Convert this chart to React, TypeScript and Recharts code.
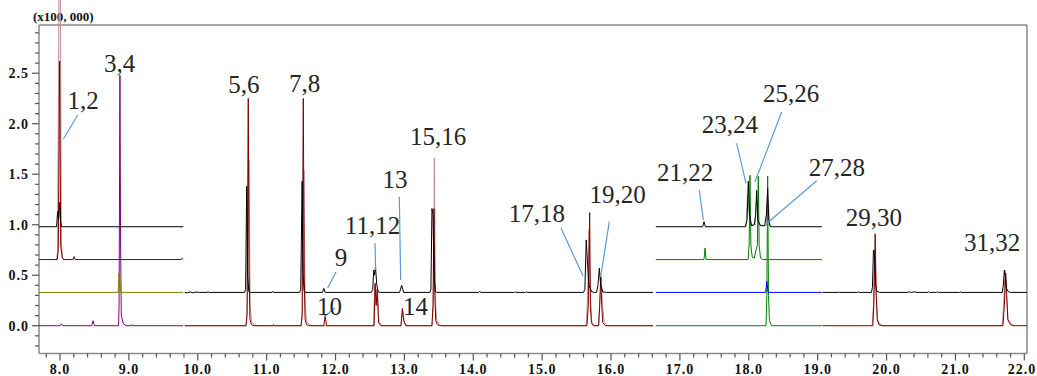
import { Line, LineChart, ReferenceDot, ReferenceLine, XAxis, YAxis } from "recharts";

type P = [number, number];
const pts = (a: P[]) => a.map(([t, v]) => ({ t, v }));

// retention time (min) vs intensity (x100,000); traces are offset per channel
const seg1Black: P[] = [[7.695, 0.98], [7.95, 0.98], [7.965, 1.13], [7.98, 1.05], [7.995, 1.22], [8.01, 1.02], [8.025, 0.98], [9.79, 0.98]];
const seg1Maroon: P[] = [[7.695, 0.655], [7.96, 0.655], [7.975, 0.75], [7.995, 2.62], [8.01, 0.8], [8.03, 0.68], [8.05, 0.655], [8.19, 0.655], [8.205, 0.685], [8.22, 0.655], [9.76, 0.655], [9.775, 0.67], [9.79, 0.66]];
const seg1Rosy: P[] = [[7.95, 0.655], [7.965, 0.74], [7.985, 3.3], [8.005, 3.3], [8.02, 0.8], [8.04, 0.665], [8.06, 0.655]];
const seg1Olive: P[] = [[7.695, 0.33], [8.845, 0.33], [8.855, 0.52], [8.868, 0.46], [8.88, 0.33], [9.79, 0.33]];
const seg1Purple: P[] = [[7.695, 0], [8.0, 0], [8.02, 0.02], [8.04, 0], [8.46, 0], [8.48, 0.05], [8.5, 0], [8.85, 0], [8.858, 0.22], [8.87, 2.48], [8.88, 0.77], [8.89, 0.1], [8.92, 0.02], [8.96, 0], [9.04, 0], [9.05, 0.012], [9.06, 0], [9.79, 0]];

const seg2Black: P[] = [
  [9.81, 0.33], [9.85, 0.325], [9.89, 0.335], [9.93, 0.325], [9.97, 0.333], [10.02, 0.33], [10.14, 0.33], [10.15, 0.338], [10.16, 0.33],
  [10.68, 0.33], [10.695, 0.36], [10.71, 1.38], [10.725, 0.5], [10.74, 0.34], [10.76, 0.33],
  [11.08, 0.33], [11.09, 0.34], [11.1, 0.33],
  [11.48, 0.33], [11.495, 0.36], [11.515, 1.43], [11.53, 0.5], [11.545, 0.34], [11.57, 0.33],
  [11.81, 0.33], [11.83, 0.37], [11.85, 0.33],
  [12.52, 0.33], [12.54, 0.36], [12.555, 0.55], [12.565, 0.5], [12.58, 0.58], [12.6, 0.4], [12.62, 0.335], [12.65, 0.33],
  [12.93, 0.33], [12.96, 0.4], [12.99, 0.33],
  [13.37, 0.33], [13.385, 0.36], [13.4, 1.16], [13.415, 1.1], [13.43, 0.5], [13.45, 0.34], [13.47, 0.33],
  [14.08, 0.33], [14.095, 0.34], [14.11, 0.33], [14.6, 0.33], [14.61, 0.336], [14.62, 0.33], [14.76, 0.33], [14.77, 0.336], [14.78, 0.33],
  [15.6, 0.33], [15.62, 0.36], [15.64, 0.85], [15.66, 0.6], [15.68, 0.4], [15.72, 0.335], [15.76, 0.33],
  [15.79, 0.33], [15.81, 0.4], [15.83, 0.57], [15.85, 0.4], [15.88, 0.335], [15.93, 0.33], [16.61, 0.33],
];
const seg2Maroon: P[] = [
  [9.81, 0], [10.7, 0], [10.715, 0.1], [10.733, 2.25], [10.745, 0.5], [10.758, 0.06], [10.78, 0.01], [10.82, 0],
  [11.09, 0], [11.1, 0.012], [11.11, 0],
  [11.5, 0], [11.515, 0.1], [11.532, 2.25], [11.545, 0.5], [11.558, 0.06], [11.58, 0.01], [11.62, 0],
  [11.83, 0], [11.85, 0.1], [11.87, 0],
  [12.56, 0], [12.575, 0.42], [12.59, 0.2], [12.605, 0.36], [12.625, 0.03], [12.66, 0],
  [12.95, 0], [12.97, 0.17], [12.99, 0.05], [13.02, 0],
  [13.4, 0], [13.415, 0.2], [13.43, 1.16], [13.442, 0.3], [13.455, 0.05], [13.48, 0.01], [13.52, 0],
  [15.65, 0], [15.67, 0.2], [15.69, 1.12], [15.7, 0.2], [15.715, 0.03], [15.74, 0],
  [15.82, 0], [15.835, 0.2], [15.85, 0.48], [15.865, 0.2], [15.88, 0.03], [15.92, 0], [16.61, 0],
];
const seg2Rosy: P[] = [
  [9.81, 0], [10.7, 0], [10.72, 0.15], [10.745, 1.64], [10.76, 0.2], [10.78, 0.04], [10.82, 0.01], [10.86, 0],
  [11.5, 0], [11.52, 0.15], [11.54, 1.54], [11.56, 0.2], [11.58, 0.04], [11.62, 0.01], [11.66, 0],
  [12.55, 0], [12.57, 0.4], [12.59, 0.22], [12.61, 0.34], [12.63, 0.04], [12.67, 0],
  [12.95, 0], [12.975, 0.15], [13.0, 0.04], [13.03, 0],
  [13.4, 0], [13.42, 0.2], [13.435, 1.66], [13.45, 0.25], [13.47, 0.05], [13.51, 0.01], [13.55, 0],
  [15.64, 0], [15.66, 0.3], [15.68, 0.95], [15.7, 0.3], [15.72, 0.04], [15.76, 0],
  [15.82, 0], [15.84, 0.3], [15.86, 0.48], [15.875, 0.2], [15.9, 0.04], [15.94, 0], [16.61, 0],
];

const seg3Black: P[] = [[16.65, 0.98], [17.33, 0.98], [17.35, 1.03], [17.37, 0.98], [17.95, 0.98], [17.975, 1.05], [17.993, 1.43], [18.01, 1.1], [18.04, 0.99], [18.08, 1.0], [18.1, 1.1], [18.114, 1.34], [18.13, 1.05], [18.17, 0.99], [18.23, 0.99], [18.255, 1.1], [18.274, 1.36], [18.29, 1.05], [18.31, 0.985], [18.34, 0.98], [19.06, 0.98]];
const seg3Gray: P[] = [[17.96, 0.98], [17.98, 1.3], [17.995, 1.2], [18.02, 1.0], [18.09, 1.0], [18.105, 1.22], [18.125, 1.25], [18.14, 1.0], [18.25, 0.99], [18.265, 1.2], [18.285, 1.22], [18.3, 0.99], [18.32, 0.98]];
const seg3Green1: P[] = [[16.65, 0.655], [17.35, 0.655], [17.365, 0.77], [17.38, 0.655], [17.99, 0.655], [18.005, 0.8], [18.017, 1.49], [18.03, 0.8], [18.05, 0.68], [18.08, 0.67], [18.105, 0.75], [18.125, 0.8], [18.138, 1.48], [18.15, 0.8], [18.17, 0.67], [18.2, 0.655], [19.06, 0.655]];
const seg3Blue: P[] = [[16.65, 0.33], [18.245, 0.33], [18.262, 0.44], [18.28, 0.33], [19.06, 0.33]];
const seg3Green0: P[] = [[16.65, 0], [18.25, 0], [18.262, 0.3], [18.274, 1.48], [18.286, 0.3], [18.3, 0.05], [18.33, 0], [19.06, 0]];

const seg4Black: P[] = [
  [19.07, 0.33], [19.3, 0.33], [19.31, 0.336], [19.32, 0.33], [19.58, 0.33], [19.59, 0.336], [19.6, 0.33],
  [19.78, 0.33], [19.795, 0.38], [19.81, 0.75], [19.825, 0.7], [19.84, 0.4], [19.86, 0.34], [19.9, 0.33],
  [20.3, 0.33], [20.33, 0.336], [20.36, 0.328], [20.4, 0.336], [20.44, 0.33], [20.6, 0.33], [20.61, 0.336], [20.62, 0.33],
  [20.73, 0.33], [20.74, 0.336], [20.75, 0.33], [21.06, 0.33], [21.07, 0.336], [21.08, 0.33],
  [21.68, 0.33], [21.695, 0.4], [21.71, 0.55], [21.725, 0.5], [21.74, 0.37], [21.77, 0.335], [21.8, 0.33], [22.039, 0.33],
];
const seg4Maroon: P[] = [[19.07, 0], [19.8, 0], [19.815, 0.2], [19.835, 0.91], [19.85, 0.3], [19.865, 0.06], [19.89, 0.01], [19.93, 0], [21.69, 0], [21.71, 0.2], [21.73, 0.52], [21.745, 0.3], [21.76, 0.06], [21.8, 0.01], [21.84, 0], [22.039, 0]];
const seg4Rosy: P[] = [[19.79, 0], [19.81, 0.2], [19.83, 0.75], [19.85, 0.3], [19.87, 0.06], [19.9, 0.015], [19.95, 0], [21.68, 0], [21.7, 0.2], [21.72, 0.55], [21.74, 0.3], [21.765, 0.06], [21.81, 0.015], [21.86, 0]];

// drawing order: light overlays first, black on top
const series = [
  { data: seg1Rosy, color: "#bc8f8f" },
  { data: seg2Rosy, color: "#bc8f8f" },
  { data: seg4Rosy, color: "#bc8f8f" },
  { data: seg3Gray, color: "#a8a8a8" },
  { data: seg1Purple, color: "#800080" },
  { data: seg1Olive, color: "#808000" },
  { data: seg1Maroon, color: "#800000" },
  { data: seg2Maroon, color: "#800000" },
  { data: seg4Maroon, color: "#800000" },
  { data: seg3Green0, color: "#008000" },
  { data: seg3Blue, color: "#0000ff" },
  { data: seg3Green1, color: "#008000" },
  { data: seg1Black, color: "#000000" },
  { data: seg2Black, color: "#000000" },
  { data: seg3Black, color: "#000000" },
  { data: seg4Black, color: "#000000" },
];

const peakNames = ["1,2", "3,4", "5,6", "7,8", "9", "10", "11,12", "13", "14", "15,16", "17,18", "19,20", "21,22", "23,24", "25,26", "27,28", "29,30", "31,32"];
const labelAt: P[] = [[8.334, 2.235], [8.864, 2.601], [10.671, 2.393], [11.55, 2.398], [12.08, 0.68], [11.913, 0.195], [12.537, 0.997], [12.864, 1.452], [13.161, 0.195], [13.488, 1.878], [14.925, 1.116], [16.094, 1.304], [17.074, 1.517], [17.727, 1.997], [18.613, 2.304], [19.28, 1.571], [19.817, 1.071], [21.531, 0.824]];
const leaders: [number, number, number, number][] = [
  [8.257, 2.086, 8.048, 1.846],
  [12.007, 0.532, 11.886, 0.373],
  [11.993, 0.175, 11.833, 0.089],
  [12.573, 0.819, 12.583, 0.551],
  [12.926, 1.277, 12.946, 0.452],
  [15.274, 0.967, 15.593, 0.492],
  [15.975, 1.03, 15.85, 0.485],
  [17.281, 1.344, 17.34, 1.047],
  [17.824, 1.806, 17.959, 1.41],
  [18.478, 2.119, 18.09, 1.426],
  [18.986, 1.436, 18.235, 0.997],
];

const X_MIN = 7.695;
const X_MAX = 22.039;
const Y_MIN = -0.275;
const Y_MAX = 3.225;
const FRAME_TOP = 2.977;

const xTicks: number[] = [];
for (let i = 39; i <= 110; i++) xTicks.push(Number((i * 0.2).toFixed(1)));
const yTicks: number[] = [];
for (let i = -2; i <= 29; i++) yTicks.push(i / 10);

const SERIF = "'Liberation Serif', 'Times New Roman', Times, serif";
const tickFont = { fontFamily: SERIF, fontWeight: 700, fontSize: 14, letterSpacing: 1 };

function XTick({ x, y, payload }: any) {
  const v = payload.value;
  const major = Math.abs(v - Math.round(v)) < 1e-6;
  const last = Math.abs(v - 22) < 1e-6;
  return (
    <g>
      <line x1={x} x2={x} y1={y} y2={y + (major ? 7 : 4)} stroke="#555" strokeWidth={1.2} />
      {major && (
        <text x={last ? x + 12 : x} y={y + 20} textAnchor={last ? "end" : "middle"} fill="#111" style={tickFont}>
          {v.toFixed(1)}
        </text>
      )}
    </g>
  );
}

function YTick({ x, y, payload }: any) {
  const v = payload.value;
  const major = Math.abs(v * 2 - Math.round(v * 2)) < 1e-6;
  return (
    <g>
      <line x1={x - (major ? 7 : 4)} x2={x} y1={y} y2={y} stroke="#555" strokeWidth={1.2} />
      {major && (
        <text x={x - 10} y={y} dy="0.35em" textAnchor="end" fill="#111" style={tickFont}>
          {v.toFixed(1)}
        </text>
      )}
    </g>
  );
}

export default function App() {
  const frame = "#8a8a8a";
  return (
    <div style={{ position: "absolute", left: 0, top: 0, width: 1037, height: 376, background: "#fff" }}>
      <div style={{ position: "absolute", left: 33, top: 9, fontFamily: SERIF, fontWeight: 700, fontSize: 13, color: "#111" }}>
        (x100, 000)
      </div>
      <LineChart width={1037} height={376} margin={{ top: 0, right: 10, bottom: 0, left: 0 }}>
        <XAxis
          dataKey="t"
          type="number"
          domain={[X_MIN, X_MAX]}
          allowDataOverflow
          ticks={xTicks}
          interval={0}
          height={22.5}
          tickSize={0}
          tickMargin={0}
          tickLine={false}
          tick={<XTick />}
          axisLine={{ stroke: frame, strokeWidth: 1.5 }}
        />
        <YAxis
          type="number"
          domain={[Y_MIN, Y_MAX]}
          allowDataOverflow
          ticks={yTicks}
          interval={0}
          width={39}
          tickSize={0}
          tickMargin={0}
          tickLine={false}
          axisLine={false}
          tick={<YTick />}
        />
        <ReferenceLine segment={[{ x: X_MIN, y: Y_MIN }, { x: X_MIN, y: FRAME_TOP }]} stroke={frame} strokeWidth={1.5} ifOverflow="visible" />
        <ReferenceLine segment={[{ x: X_MIN, y: FRAME_TOP }, { x: X_MAX, y: FRAME_TOP }]} stroke={frame} strokeWidth={1.5} ifOverflow="visible" />
        <ReferenceLine segment={[{ x: X_MAX, y: Y_MIN }, { x: X_MAX, y: FRAME_TOP }]} stroke={frame} strokeWidth={1.5} ifOverflow="visible" />
        {series.map((s, i) => (
          <Line
            key={i}
            data={pts(s.data)}
            dataKey="v"
            type="linear"
            stroke={s.color}
            strokeWidth={1}
            dot={false}
            activeDot={false}
            isAnimationActive={false}
          />
        ))}
        {leaders.map((l, i) => (
          <ReferenceLine
            key={"l" + i}
            segment={[{ x: l[0], y: l[1] }, { x: l[2], y: l[3] }]}
            stroke="#5b9bd5"
            strokeWidth={1.2}
            ifOverflow="visible"
          />
        ))}
        {peakNames.map((name, i) => (
          <ReferenceDot
            key={"p" + i}
            x={labelAt[i][0]}
            y={labelAt[i][1]}
            r={0}
            ifOverflow="visible"
            shape={(p: any) => (
              <text x={p.cx} y={p.cy} dy="0.35em" textAnchor="middle" fill="#262626" style={{ fontFamily: SERIF, fontSize: 25 }}>
                {name}
              </text>
            )}
          />
        ))}
      </LineChart>
    </div>
  );
}
